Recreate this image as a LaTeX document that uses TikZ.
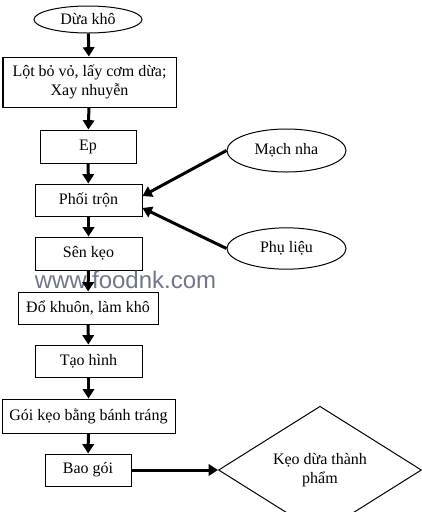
\documentclass[tikz,border=0pt]{standalone}
\usepackage{fontspec}
\setmainfont{Liberation Serif}
\newfontfamily\wmfont{Liberation Sans}
\usetikzlibrary{shapes.geometric,arrows.meta}

\definecolor{wmgray}{RGB}{110,120,138}

\tikzset{
  stepbox/.style={draw,line width=0.75pt,rectangle,inner sep=0.75pt,align=center,font=\fontsize{12}{14.25}\selectfont},
  srcnode/.style={draw,line width=0.75pt,ellipse,inner sep=0pt,font=\fontsize{12}{14.25}\selectfont},
  flowarrow/.style={line width=2.25pt,-{Triangle[length=7pt,width=8.5pt]}}
}

\begin{document}
\begin{tikzpicture}[x=0.75pt,y=0.75pt,yscale=-1,xscale=1]
\useasboundingbox (0,0) rectangle (422,512);

% Start
\node [srcnode,minimum width=81pt,minimum height=20.25pt] (dua) at (88,19.5) {Dừa khô};
% Process steps
\node [stepbox,minimum width=129.75pt,minimum height=37.5pt] (lot) at (89.5,82) {Lột bỏ vỏ, lấy cơm dừa;\\Xay nhuyễn};
\node [stepbox,minimum width=72pt,minimum height=24.75pt] (ep) at (88,146.5) {Ep};
\node [stepbox,minimum width=80.25pt,minimum height=24pt] (tron) at (88.5,200) {Phối trộn};
\node [stepbox,minimum width=80.25pt,minimum height=24.75pt] (sen) at (88.5,253.5) {Sên kẹo};
\node [stepbox,minimum width=105pt,minimum height=24pt] (do) at (88,308) {Đổ khuôn, làm khô};
\node [stepbox,minimum width=80.25pt,minimum height=24pt] (tao) at (88.5,361) {Tạo hình};
\node [stepbox,minimum width=129.75pt,minimum height=25.5pt] (goi) at (88.5,416) {Gói kẹo bằng bánh tráng};
\node [stepbox,minimum width=64.5pt,minimum height=24pt] (bao) at (88,470) {Bao gói};
% Side inputs
\node [srcnode,minimum width=89.25pt,minimum height=32.25pt] (mach) at (286.5,150.5) {Mạch nha};
\node [srcnode,minimum width=89.25pt,minimum height=31pt] (phu) at (286.5,248.5) {Phụ liệu};
% Product
\node [draw,line width=0.75pt,diamond,inner sep=0pt,minimum width=152.25pt,minimum height=57.75pt,align=center,font=\fontsize{12}{14.25}\selectfont] (keo) at (320,470) {Kẹo dừa thành\\phẩm};

% Watermark
\node [text=wmgray,font=\wmfont\fontsize{18}{20}\selectfont,inner sep=0pt] (wm) at (125.5,280) {www.foodnk.com};

% Main flow
\draw [flowarrow] (dua) -- (lot);
\draw [flowarrow] (lot) -- (ep);
\draw [flowarrow] (ep) -- (tron);
\draw [flowarrow] (tron) -- (sen);
\draw [flowarrow] (sen) -- (do);
\draw [flowarrow] (do) -- (tao);
\draw [flowarrow] (tao) -- (goi);
\draw [flowarrow] (goi) -- (bao);
\draw [flowarrow] (bao) -- (keo);
% Inputs into mixing
\draw [flowarrow] (mach.west) -- ([yshift=-3pt]tron.east);
\draw [flowarrow] (phu.west) -- ([yshift=6pt]tron.east);

\end{tikzpicture}
\end{document}
